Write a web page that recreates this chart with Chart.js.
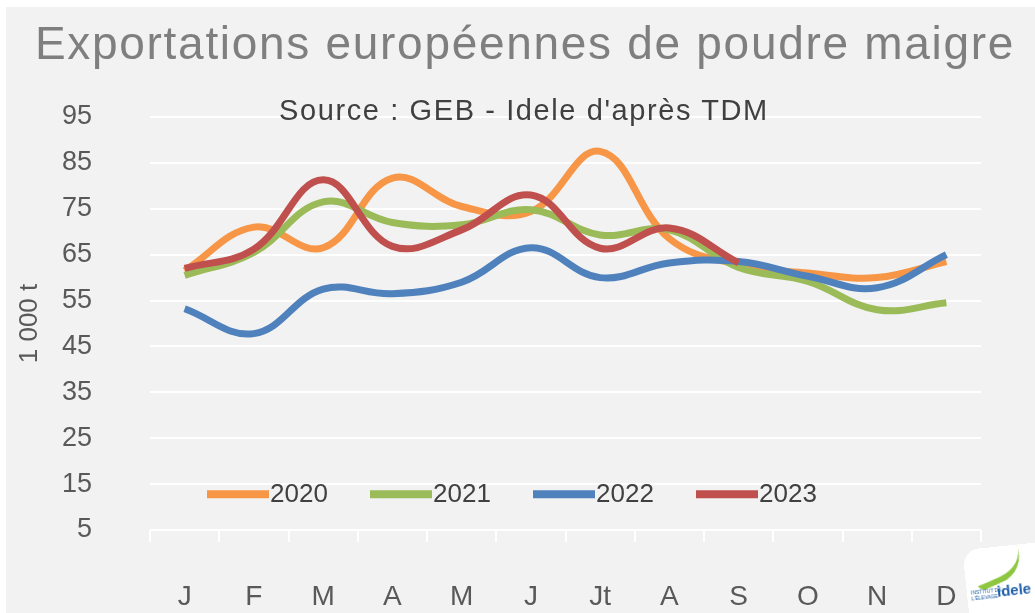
<!DOCTYPE html>
<html>
<head>
<meta charset="utf-8">
<script src="https://cdn.jsdelivr.net/npm/chart.js@4.4.1/dist/chart.umd.min.js"></script>
<style>
  html, body { margin: 0; padding: 0; background: #ffffff; }
  #wrap { position: relative; width: 1035px; height: 613px; overflow: hidden; font-family: "Liberation Sans", Arial, sans-serif; }
  #bg { position: absolute; left: 6px; top: 7px; right: 0; bottom: 0; background: #f2f2f2; }
  #chart { position: absolute; left: 0; top: 0; }
  #title { position: absolute; left: 0; width: 1050px; top: 16px; text-align: center; font-size: 46px; letter-spacing: 1.7px; color: #7f7f7f; white-space: nowrap; }
  #source { position: absolute; left: 0; width: 1048px; top: 94px; text-align: center; font-size: 29px; letter-spacing: 1.6px; color: #404040; white-space: nowrap; }
  #logo { position: absolute; left: 966px; top: 546px; width: 78px; height: 72px; background: #fff; border-radius: 16px 0 0 0; transform: rotate(-6deg); }
  #logo .swoosh { position: absolute; left: 8px; top: 8px; width: 52px; height: 22px; border-bottom: 6px solid #8dc63f; border-radius: 0 0 40px 10px; transform: rotate(-18deg); }
  #logo .small { position: absolute; left: 4px; top: 40px; font-size: 5px; line-height: 6px; color: #1f5fa8; }
  #logo .name { position: absolute; left: 30px; top: 36px; font-size: 15px; font-weight: bold; color: #1f5fa8; }
</style>
</head>
<body>
<div id="wrap">
  <div id="bg"></div>
  <canvas id="chart" width="1035" height="613"></canvas>
  <div id="title">Exportations européennes de poudre maigre</div>
  <div id="source">Source : GEB - Idele d'après TDM</div>
  <div id="logo"><div class="swoosh"></div><div class="small">INSTITUT DE<br>L'ÉLEVAGE</div><div class="name">idele</div></div>
</div>
<script>
const months = ["J", "F", "M", "A", "M", "J", "Jt", "A", "S", "O", "N", "D"];
const years = ["2020", "2021", "2022", "2023"];
const exp2020 = [61.5, 71, 66.5, 81.7, 75.5, 74.4, 87.5, 68.5, 62.8, 61, 60, 63.5];
const exp2021 = [60.5, 65.5, 76.5, 72, 71.5, 74.8, 69.3, 70.4, 62.2, 59.2, 53, 54.5];
const exp2022 = [53.2, 47.8, 57.5, 56.5, 59, 66.5, 60, 63.2, 63.5, 60.3, 57.8, 65];
const exp2023 = [62, 66.2, 81.3, 66.8, 70.4, 78, 66.4, 70.8, 63.2, null, null, null];
const colors = ["#f79646", "#9bbb59", "#4f81bd", "#c0504d"];

const textColor = "#595959";
const fontFamily = "'Liberation Sans', Arial, sans-serif";

// legend drawn inside the plot, near the bottom
const inlineLegend = {
  id: "inlineLegend",
  afterDatasetsDraw(chart) {
    const { ctx, chartArea, scales } = chart;
    const y = scales.y.getPixelForValue(12.8);
    chart.data.datasets.forEach((ds, i) => {
      const x0 = chartArea.left + 57 + i * 163;
      ctx.save();
      ctx.strokeStyle = ds.borderColor;
      ctx.lineWidth = 8;
      ctx.beginPath();
      ctx.moveTo(x0, y);
      ctx.lineTo(x0 + 62, y);
      ctx.stroke();
      ctx.fillStyle = "#404040";
      ctx.font = "26px " + fontFamily;
      ctx.textBaseline = "middle";
      ctx.fillText(ds.label, x0 + 63, y + 1);
      ctx.restore();
    });
  }
};

const series = [exp2020, exp2021, exp2022, exp2023];
const drawOrder = [3, 2, 1, 0];

new Chart(document.getElementById("chart"), {
  type: "line",
  data: {
    labels: months,
    datasets: series.map((values, i) => ({
      label: years[i],
      data: values,
      borderColor: colors[i],
      backgroundColor: colors[i],
      borderWidth: 7,
      pointRadius: 0,
      tension: 0.4,
      fill: false,
      order: drawOrder[i]
    }))
  },
  options: {
    responsive: false,
    devicePixelRatio: 1,
    animation: false,
    layout: { padding: { top: 117, right: 54, left: 0, bottom: 0 } },
    plugins: {
      legend: { display: false },
      tooltip: { enabled: false }
    },
    scales: {
      x: {
        offset: true,
        grid: { offset: true, drawOnChartArea: false, color: "#ffffff", tickColor: "#ffffff", lineWidth: 2, tickLength: 12 },
        border: { display: false },
        ticks: { color: textColor, font: { size: 28, family: fontFamily }, padding: 38, maxRotation: 0 },
        afterFit(s) { s.height = 83; }
      },
      y: {
        min: 5,
        max: 95,
        grid: { color: "#ffffff", lineWidth: 2, drawTicks: false },
        border: { display: false },
        ticks: { stepSize: 10, color: textColor, font: { size: 27, family: fontFamily }, padding: 58 },
        title: { display: true, text: "1 000 t", color: textColor, font: { size: 26, family: fontFamily }, padding: { top: 14, bottom: 0 } },
        afterFit(s) { s.width = 150; }
      }
    }
  },
  plugins: [inlineLegend]
});
</script>
</body>
</html>
